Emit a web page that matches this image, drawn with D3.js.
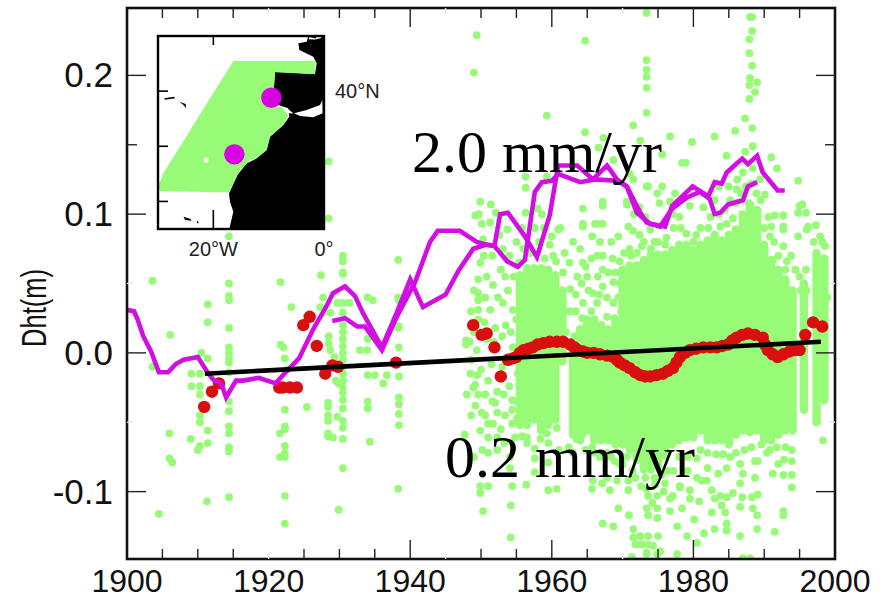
<!DOCTYPE html>
<html>
<head>
<meta charset="utf-8">
<script src="https://cdn.jsdelivr.net/npm/d3@7"></script>
<style>
	html,body{margin:0;padding:0;background:#fff;}
	svg{display:block;}
</style>
</head>
<body>
<div id="chart"></div>
<script>
'use strict';

// green dots as [year, Dht]
const greenEarly = [
	[1903.6,.052],[1906.1,.013],[1903.6,-.010],[1911.4,.035],[1911.4,.022],[1910.5,0],[1911.4,-.004],
	[1909.1,-.015],[1910.3,-.015],[1909.1,-.024],[1910.3,-.024],[1910.3,-.03],
	[1914.4,.084],[1914.4,.05],[1914.4,.041],[1914.4,.038],[1914.4,.018],[1914.4,.004],[1914.4,0],
	[1914.4,-.004],[1914.4,-.007],[1914.4,-.014],
	[1906,-.058],[1909,-.062],[1910.3,-.05],[1910.3,-.045],[1911.4,-.056],[1911.4,-.065],[1910.3,-.067],
	[1910,-.07],[1906,-.076],[1906.4,-.079],[1904.5,-.116],[1911.3,-.107],[1914.4,-.104],
	[1914.4,-.035],[1914.4,-.042],[1914.4,-.053],[1914.4,-.058],[1914.4,-.068],[1914.4,-.071],
	[1922.3,-.041],[1922.3,-.053],[1922.3,-.055],[1922.3,-.067],[1922.3,-.072],[1922.3,-.075],
	[1922.3,-.103],[1922.3,-.123],[1921.6,-.058],[1921.6,-.075],[1925.4,-.039],
	[1928.4,-.036],[1928.4,-.039],[1928.4,-.045],[1928.4,-.049],[1928.4,-.058],[1928.4,-.06],
	[1929.7,-.046],[1929.1,-.061],[1930.5,-.029],[1930.5,-.034],[1930.5,-.04],[1930.5,-.049],
	[1930.5,-.054],[1930.5,-.062],[1930.5,-.083],[1929.9,-.113],
	[1934,-.035],[1934,-.04],[1934.3,-.064],
	[1938.4,-.032],[1938.4,-.037],[1938.4,-.044],[1938.4,-.052],[1938.3,-.098],
	[1921.7,.051],[1923.2,.033],[1921.7,.006],[1922.1,.004],[1922.3,-.004],[1922.6,-.012],
	[1927.4,.056],[1930.5,.057],[1927.7,.04],[1927.3,.033],[1928.7,.029],[1929.7,.036],[1930.5,.036],
	[1931.4,.036],[1930.5,.029],[1930.5,.02],[1930.5,.015],[1930.5,.01],[1930.5,.005],[1930.5,0],
	[1930.5,-.005],[1930.5,-.01],[1930.5,-.015],[1930.5,-.02],[1930.5,-.025],
	[1928.5,.012],[1928.5,.007],[1928.7,.002],[1929.3,-.003],[1929.5,-.02],[1929.9,-.022],
	[1934,.04],[1934.7,.038],[1934,.01],[1932.9,.002],[1933.9,.002],[1934,-.016],[1935,-.016],
	[1936.7,-.016],[1936.2,-.022],[1938.4,.038],[1938.4,.019],[1938.4,.004],[1938.4,-.017],
	[1930.5,.07],[1930.5,.066],[1930.5,.058],[1938.3,.067],[1938.3,.04],[1938.3,.018],[1928.5,.138],[1928.5,.097]
];

const greenUpper = [
	[1949.4,.229],[1949,.202],[1964.7,.225],[1973.4,.245],[1973.4,.211],[1973.4,.204],[1973.4,.199],
	[1973.4,.191],[1973.4,.173],[1959.3,.171],[1971.5,.164],[1964.7,.159],[1967.3,.155],[1966.6,.148],
	[1968.7,.139],[1972.5,.153],[1956.3,.127],[1959.3,.127],[1956.3,.119],[1949.9,.109],[1951.4,.107],
	[1949.7,.1],[1952.1,.101],[1950.1,.093],[1956.3,.101],[1958,.104],[1958.6,.1],[1964.4,.104],
	[1967.2,.109],[1967.2,.106],[1970.6,.109],[1971,.129],[1973.4,.12],[1964.4,.093],[1966.1,.093],
	[1967.2,.093],[1970.8,.091],[1961.2,.09],
	[1988,.242],[1988.3,.242],[1988.3,.232],[1987.9,.226],[1987.9,.216],[1988.3,.207],[1988,.198],
	[1987.9,.193],[1989,.195],[1988.7,.188],[1987.9,.183],[1987.3,.169],[1988.3,.162],[1985.9,.16],
	[1983,.156],[1976.7,.156],[1979.8,.152],[1988.4,.149],[1975.6,.143],[1984.7,.142],[1987.3,.145],
	[1991,.141],[1991.8,.133],[1978.4,.137],[1978.9,.137],[1988.4,.133],[1994.8,.124],[1973.6,.12],
	[1975.6,.12],[1974.9,.115],[1977.4,.115],[1986.1,.118],[1990.1,.114],[1995.4,.107],[1994.8,.101],
	[1995.9,.101],[1991.5,.099],[1992.7,.099],[1996.2,.091],[1992.7,.091],
	[1949.2,.099],[1951.3,.094],[1953.7,.089],[1950.3,.082],[1953.1,.075],[1949.9,.065],
	[1949.6,.053],[1949.6,.043],[1949.6,.038],[1949.6,.031],[1949.6,.024],[1951.7,.049],[1951.3,.031],
	[1953.1,.036],[1954.5,.031],[1955.4,.031],[1960.9,.089],[1960,.084],[1964.4,.091],[1966.4,.093],
	[1965.7,.084],[1969.4,.084],[1971.5,.088],[1972.7,.077],[1973.9,.089],[1964,.075],[1959.7,.078],
	[1960.2,.07],[1964.4,.065],[1966.4,.07],[1967.2,.07],[1965,.055],[1967.2,.048],[1968.7,.051],
	[1963.6,.055],[1961.6,.058],[1965.8,.043],[1967.2,.06],[1964.4,.036],[1962.6,.046],[1962.6,.03],
	[1966.4,.036],[1968.7,.036],[1967.8,.026],[1966.5,.055],[1969.4,.04],[1963.4,.03],[1964.2,.05],
	[1971.5,.125],[1970.6,.107],[1976.7,.109],[1979.5,.106],[1984.7,.093],[1983.8,.091],[1991,.091],
	[1992.7,.099],[1995,.106],[1996,.089],[1994.8,.084],[1997.9,.084],[1998.6,.077],[1992.7,.077],
	[1992.7,.089],[1990.8,.084],[1989.8,.075],[1991.2,.067],[1993,.06],[1995,.055],[1995.9,.06],
	[1972.4,.085],[1974.5,.08],[1976.2,.083],[1978.2,.09],[1980.4,.085],[1982.1,.09],[1985.6,.097],
	[1986.9,.1],[1988.9,.115],[1989.5,.11],[1987.8,.108],[1971,.075],[1969.6,.066],[1968.6,.068]
];

const greenLower = [
	[1949,.015],[1950.5,.022],[1952,.018],[1953.5,.02],[1955,.024],[1948.6,-.005],[1950,-.012],
	[1951.5,-.008],[1953,-.01],[1954.5,.004],[1955.2,-.015],[1949.5,-.016],[1951,-.02],[1952.5,-.018],
	[1954,-.024],[1948.4,.008],[1948.9,-.025],[1947.9,.009],[1947.9,.006],[1949.4,.002],
	[1948,-.03],[1949.2,-.023],[1949.6,-.03],[1949.2,-.038],[1950.1,-.043],[1951,-.051],[1949.9,-.056],
	[1951,-.061],[1947.7,-.059],[1952.3,-.028],[1952,-.036],[1952.3,-.043],[1951.7,-.051],[1954.4,-.034],
	[1954.4,-.041],[1955.1,-.047],[1954.4,-.051],[1954.8,-.061],[1952.3,-.061],[1952.3,-.07],[1951,-.072],
	[1954.1,-.075],[1954.1,-.083],[1949.9,-.096],[1949.9,-.101],[1951,-.096],[1954.4,-.096],[1956.4,-.095],
	[1959.5,-.099],[1960.7,-.098],[1950.3,-.114],[1954.2,-.11],[1954.2,-.133],[1959.3,-.058],[1960.7,-.054],
	[1959.5,-.065],[1956.5,-.061],[1956.5,-.065],[1957.6,-.076],[1957.6,-.069],[1957.6,-.086],[1959.5,-.079],
	[1963.5,-.062],[1964.3,-.059],[1965.7,-.068],[1967.2,-.062],[1965.8,-.092],[1965.7,-.098],[1967.1,-.094],
	[1968.2,-.099],[1969.4,-.112],[1970.9,-.117],[1967.2,-.123],[1968.7,-.125],[1971.5,-.127],[1971.5,-.133],
	[1972.5,-.132],[1972.7,-.138],[1971.8,-.138],[1971.3,-.147],[1973.4,-.144],[1970.8,-.099],[1969.2,-.092],
	[1967.8,-.09],[1970.8,-.092],[1969.6,-.08],[1971.4,-.085],[1968.4,-.075],[1966.8,-.075],
	[1973.6,-.103],[1974.9,-.103],[1974.2,-.108],[1973.4,-.112],[1974.9,-.112],[1973.6,-.117],[1974.9,-.119],
	[1976.7,-.105],[1976.7,-.114],[1978.4,-.112],[1977.7,-.125],[1978.1,-.096],[1979.5,-.099],[1979.5,-.105],
	[1980.8,-.107],[1980.1,-.12],[1979.1,-.132],[1981.5,-.13],[1980.5,-.137],[1977.7,-.145],
	[1972.5,-.132],[1973.6,-.132],[1975,-.132],[1972.5,-.138],[1973.6,-.138],[1974.3,-.139],[1975.3,-.143],
	[1973.4,-.145],[1974.9,-.145],[1982.6,-.115],[1984,-.11],[1984.5,-.115],[1986.6,-.111],[1983,-.127],
	[1984.7,-.123],[1984.7,-.128],[1986.6,-.132],[1989,-.127],[1991.5,-.129],[1988.4,-.112],[1989,-.117],
	[1992.7,-.114],[1992.7,-.117],[1987,-.148],[1988,-.148],[1998.3,-.063],
	[1980.5,-.076],[1981.9,-.092],[1982.6,-.099],[1983,-.105],[1983.8,-.103],[1984.7,-.104],[1985.6,-.101],
	[1986.9,-.104],[1988.3,-.104],[1989.1,-.102],[1986.6,-.094],[1987,-.087],[1988.7,-.09],[1989.1,-.078],
	[1990.4,-.072],[1991.2,-.087],[1992.7,-.088],[1993.9,-.088],[1993.9,-.097],[1984.7,-.083],[1983.5,-.087],
	[1982,-.083],[1985.2,-.075],[1986.6,-.08],[1988.7,-.078],[1992,-.08],[1977.1,-.103],[1978.1,-.097],
	[1976,-.094],[1979.2,-.085],[1980.5,-.09],[1981.2,-.092],[1976.4,-.085],[1974.6,-.095],[1973.2,-.09]
];

// dots along the edges of the dense cloud
const greenEdgeTop = [
	[1948.6,.03],[1949,.045],[1950.4,.07],[1950.8,.055],[1951.6,.07],[1952.6,.085],[1952.8,.06],[1953.4,.055],
	[1954,.07],[1954.6,.055],[1955,.08],[1955.4,.065],[1950.6,.04],[1952.4,.04],[1953.8,.045],[1950.8,.01],
	[1951.8,.008],[1953,.012],[1954.2,.015],
	[1956,.075],[1957,.072],[1958.2,.08],[1959,.068],[1957.6,.09],[1955.8,.09],[1958.9,.09],[1960.6,.066],
	[1961.8,.072],[1962.5,.065],[1963,.08],[1965.6,.068],[1966.8,.08],[1968.4,.08],[1968,.058],[1969,.058],
	[1965.2,.045],[1964.3,.025],[1963.2,.012],[1965.6,.03],[1967.8,.04],[1969.6,.05],[1969.8,.03],[1968.8,.025],
	[1966.7,.042],[1962,.015],[1961.8,.03],[1963.4,.042],[1964.8,.062],[1970.2,.072],[1971.2,.07],[1972,.072],
	[1973,.08],[1974,.075],[1975,.08],[1976,.078],[1977.2,.09],[1978,.098],[1979,.086],[1980,.08],[1981,.09],
	[1982.4,.098],[1983.6,.1],[1984.4,.103],[1985.2,.11],[1986,.108],[1986.8,.115],[1987.4,.12],[1988.2,.122],
	[1989.4,.125],[1990,.09],[1990.6,.098],[1991.4,.08],[1992,.07],[1993.2,.066],[1993.8,.07],[1994.4,.06],
	[1996,.045],[1997,.08],[1998.2,.08],[1997.3,.092],[1998.9,.04],[1995.2,.045],[1971.6,.1],[1972.4,.105],
	[1973.2,.098],[1975.2,.108],[1977,.1],[1981.4,.105],[1983,.11],[1985,.12],[1986.2,.125],[1987,.13],[1983.6,.12]
];
const greenEdgeBottom = [
	[1948.5,-.015],[1950.6,-.03],[1951.6,-.035],[1953.2,-.03],[1953.4,-.045],[1950.6,-.045],[1948.6,-.045],
	[1952.8,-.055],[1950.2,-.07],[1949,-.075],[1953.3,-.065],[1955,-.035],
	[1955.8,-.06],[1958.4,-.062],[1961,-.07],[1962.4,-.068],[1963,-.072],[1964.8,-.07],[1966,-.072],[1967.8,-.072],
	[1968.9,-.078],[1970,-.08],[1970.6,-.075],[1971.8,-.09],[1972.6,-.096],[1973.4,-.098],[1974.5,-.09],
	[1975.5,-.088],[1975.8,-.1],[1977.2,-.085],[1978,-.075],[1979.2,-.075],[1981,-.07],[1982,-.072],[1983.2,-.073],
	[1984.2,-.073],[1986,-.072],[1987.2,-.07],[1988.2,-.068],[1989.6,-.066],[1990.8,-.07],[1991.8,-.068],[1993,-.068],
	[1993.9,-.07],[1993.9,-.078],[1992.8,-.077]
];

// where the dots merge into a solid mass: top and bottom per year
const bandYears = [1955.5,1956.5,1957.5,1958.5,1959.5,1960.5,1961.5,1963,1964,1965,1966,1967,1968,1969,1970,1971,1972,1973,1974,1975,1976,1977,1978,1979,1980,1981,1982,1983,1984,1985,1986,1987,1988,1989,1990,1991,1992,1993,1994,1995.6,1997.4,1998.5];
const bandHigh = [.056,.061,.061,.061,.06,.056,.045,.006,.017,.024,.024,.02,.017,.024,.06,.063,.063,.067,.071,.071,.071,.074,.078,.078,.074,.078,.081,.085,.081,.085,.089,.096,.107,.103,.078,.067,.06,.053,.045,.05,.072,.068];
const bandLow = [-.052,-.052,-.048,-.056,-.052,-.048,-.006,-.059,-.063,-.056,-.063,-.063,-.063,-.066,-.066,-.07,-.077,-.084,-.084,-.081,-.074,-.066,-.063,-.061,-.061,-.056,-.063,-.063,-.063,-.066,-.059,-.056,-.057,-.056,-.063,-.063,-.059,-.056,-.056,-.041,-.05,-.034];

// red points
const redYears = [1910.9,1912,1913,1921.5,1922,1923,1924,1924.9,1925.8,1926.8,1928,1929,1929.8,1938,1948.9,1950.1,1950.8,1951.9,1952.8,1953.8,1954.5,1955,1955.5,1956,1956.7,1957.3,1958,1958.8,1959.7,1960.7,1961.6,1962.6,1963.2,1963.7,1964.4,1965,1965.9,1966.8,1967.8,1968.7,1969.2,1969.6,1970.3,1971,1971.8,1972.5,1973.2,1973.9,1974.8,1975.7,1976.4,1977.1,1977.6,1978.1,1978.8,1979.5,1980.4,1981.4,1982.4,1983.3,1984.1,1984.9,1985.5,1986.1,1986.9,1987.7,1988.7,1989.8,1990.1,1990.5,1991.2,1991.9,1992.7,1993.6,1994.3,1995,1995.8,1996.9,1998.2];
const redValues = [-.039,-.028,-.022,-.025,-.025,-.025,-.025,.02,.026,.005,-.015,-.009,-.01,-.007,.02,.013,.014,.004,-.017,-.005,-.004,-.003,0,.002,.003,.004,.006,.007,.008,.008,.008,.006,.004,.002,.001,0,0,-.001,-.002,-.003,-.005,-.007,-.009,-.011,-.014,-.016,-.017,-.017,-.016,-.015,-.013,-.011,-.007,-.003,0,.002,.003,.004,.004,.004,.005,.006,.009,.011,.013,.014,.013,.011,.006,.002,-.001,-.003,-.001,.001,.002,.002,.013,.022,.019];

// the two magenta curves
const lineAYears = [1900,1901,1901.5,1902.3,1903.4,1904.5,1905.8,1906.9,1908,1910,1911.5,1912.3,1913.3,1914,1915.4,1916.4,1918.6,1921,1922.4,1924.3,1926.3,1928.1,1929.1,1930.8,1932.2,1933.3,1936,1938.1,1940,1941.8,1945,1946.8,1948.9,1950.8,1951.9,1952.7,1953.8,1956.2,1957.9,1959.7,1960.9,1963.6,1965.8,1967.8,1969.2,1970.6,1972,1973.9,1976,1977,1979.9,1982.1,1983,1984,1984.7,1986.9,1987.7,1989,1989.8,1991.9,1992.9];
const lineAValues = [.031,.03,.024,.012,.001,-.014,-.014,-.008,-.005,-.003,-.015,-.02,-.022,-.032,-.02,-.02,-.018,-.022,-.014,-.004,.017,.033,.043,.048,.041,.029,.004,.029,.053,.033,.042,.059,.075,.078,.077,.1,.101,.084,.069,.099,.135,.135,.125,.135,.125,.12,.101,.093,.091,.106,.12,.113,.123,.122,.13,.14,.136,.142,.13,.117,.117];
const lineBYears = [1929,1930.8,1932.5,1933.6,1936,1938.1,1940.7,1942.8,1943.9,1947,1949.4,1950.8,1951.9,1953.7,1955.2,1956.2,1957.6,1958.6,1960,1960.9,1964,1966.1,1969.2,1970.6,1972.5,1973.4,1975.3,1977,1979.1,1980.9,1982.3,1983,1983.8,1984.9,1987,1987.7,1989];
const lineBValues = [.023,.025,.019,.019,.002,.026,.051,.08,.088,.088,.08,.078,.077,.066,.062,.067,.116,.123,.124,.129,.123,.125,.124,.12,.101,.094,.091,.104,.112,.116,.111,.1,.101,.107,.11,.12,.123];

// black trend
const trendYears = [1911,1998];
const trendValues = [-.015,.008];

// axis ticks
const xLabelYears = [1900,1920,1940,1960,1980,2000];
const xMajorYears = [1940,1960,1980];
const xMinorYears = [1905,1910,1915,1925,1930,1935,1950,1955,1965,1975,1985,1990,1995];
const xFaintYears = [1920,1945,1970];
const yLabelValues = [-.1,0,.1,.2];
const yMinorValues = [.15];
const yFaintValues = [-.05,.05];

// inset map, [lon, lat]
const landOutline = [[-2.83,50],[-3.13,48.97],[-4.64,48.67],[-4.46,47.46],[-1.93,46.25],[-1.33,45.04],[-1.63,43.11],[-8.86,43.53],[-9.04,40.81],[-8.25,37.48],[-6.45,36.88],[-6.27,35.37],[-7.35,33.86],[-9.76,31.74],[-10.36,29.32],[-12.17,27.81],[-13.98,26.9],[-15.66,24.79],[-17.17,21.46],[-16.99,19.95],[-16.39,18.14],[-17.11,15],[0,15],[0,50]];
const seaPatch = [[-5.42,35.97],[-3.13,36.58],[-.72,37.48],[-.3,38.39],[-.24,35.97],[-1.93,35.25],[-4.34,35.49]];
const straitPatch = [[-7.65,37.06],[-6.27,36.58],[-5.5,35.95],[-6.27,35.97]];
const speckPatch = [[-2.6,49.8],[-1.5,49.55],[-1.3,49.9],[-.5,49.9],[-.5,49.65],[-1.6,49.35],[-2.8,49.4]];
const swathOutline = [[-16.39,45.47],[-1.51,45.47],[-1.63,43.05],[-8.86,43.41],[-9.04,40.81],[-9.64,37.18],[-7.65,37.06],[-6.45,35.67],[-7.35,33.86],[-9.76,31.74],[-10.36,29.32],[-12.17,27.81],[-13.37,27.5],[-15.18,25.7],[-17.17,21.64],[-29.64,21.89],[-30,22.67],[-29.04,25.09]];
const swathHole = [[-21.7,27.9],[-20.9,28],[-20.9,27.1],[-21.6,27]];
const islandA = [[-28.9,38.7],[-27.1,39],[-26.9,38.7],[-28.7,38.45]];
const islandB = [[-26.14,38.09],[-25,37.67],[-24.94,36.88],[-25.4,37.48]];
const islandC = [[-25.4,17.23],[-24.2,16.87],[-23.9,16.5],[-25.1,16.63]];
const islandD = [[-23,16.6],[-22.6,16.14],[-22.9,16]];
const siteLons = [-9.52,-16.2];
const siteLats = [38.81,28.54];
const insetLonTicks = [-20];
const insetLatTicks = [20,30,40];

const GREEN = '#98fb78', MAGENTA = '#d20fe2', RED = '#d90f0f', INK = '#111';

var svg = d3.select('#chart').append('svg')
	.attr('width',884)
	.attr('height',599);

var x = d3.scaleLinear().domain([1900,2000]).range([127,835]);
var y = d3.scaleLinear().domain([-.15,.25]).range([561,6]);

svg.append('clipPath').attr('id','plotclip').append('rect')
	.attr('x',127).attr('y',8).attr('width',708).attr('height',551);

var plot = svg.append('g').attr('clip-path','url(#plotclip)');

// solid part of the cloud
plot.append('g').selectAll('line')
	.data(bandYears)
	.enter().append('line')
		.attr('x1',function(d){ return x(d); })
		.attr('x2',function(d){ return x(d); })
		.attr('y1',function(d,i){ return y(bandHigh[i]); })
		.attr('y2',function(d,i){ return y(bandLow[i]); })
		.attr('stroke',GREEN)
		.attr('stroke-width',8.4)
		.attr('stroke-linecap','round');

// single dots
plot.append('g').selectAll('circle')
	.data(greenEarly.concat(greenUpper,greenLower,greenEdgeTop,greenEdgeBottom))
	.enter().append('circle')
		.attr('cx',function(d){ return x(d[0]); })
		.attr('cy',function(d){ return y(d[1]); })
		.attr('r',3.9)
		.attr('fill',GREEN);

// red
plot.append('g').selectAll('circle')
	.data(redYears)
	.enter().append('circle')
		.attr('cx',function(d){ return x(d); })
		.attr('cy',function(d,i){ return y(redValues[i]); })
		.attr('r',6.2)
		.attr('fill',RED);

// curves
function drawCurve(years,values,color,width){
	var line = d3.line()
		.x(function(d){ return x(d); })
		.y(function(d,i){ return y(values[i]); });
	plot.append('path')
		.attr('d',line(years))
		.attr('fill','none')
		.attr('stroke',color)
		.attr('stroke-width',width)
		.attr('stroke-linejoin','miter');
}
drawCurve(lineBYears,lineBValues,MAGENTA,4.6);
drawCurve(lineAYears,lineAValues,MAGENTA,4.6);
drawCurve(trendYears,trendValues,'#000',4.6);

// inset map
var lon = d3.scaleLinear().domain([-30,0]).range([158,324]);
var lat = d3.scaleLinear().domain([15,50]).range([229,36]);
var outline = d3.line()
	.x(function(d){ return lon(d[0]); })
	.y(function(d){ return lat(d[1]); })
	.curve(d3.curveLinearClosed);

var inset = svg.append('g');
inset.append('rect')
	.attr('x',lon(-30)).attr('y',lat(50))
	.attr('width',lon(0)-lon(-30)).attr('height',lat(15)-lat(50))
	.attr('fill','#fff');

function drawShape(points,color){
	inset.append('path').attr('d',outline(points)).attr('fill',color);
}
drawShape(landOutline,'#000');
drawShape(seaPatch,'#fff');
drawShape(straitPatch,'#fff');
drawShape(speckPatch,'#fff');
drawShape(swathOutline,GREEN);
drawShape(swathHole,'#fff');
drawShape(islandA,'#000');
drawShape(islandB,'#000');
drawShape(islandC,'#000');
drawShape(islandD,'#000');

inset.selectAll('.site')
	.data(siteLons)
	.enter().append('circle')
		.attr('class','site')
		.attr('cx',function(d){ return lon(d); })
		.attr('cy',function(d,i){ return lat(siteLats[i]); })
		.attr('r',10.2)
		.attr('fill','#d800e0');

inset.append('rect')
	.attr('x',lon(-30)).attr('y',lat(50))
	.attr('width',lon(0)-lon(-30)).attr('height',lat(15)-lat(50))
	.attr('fill','none')
	.attr('stroke','#000')
	.attr('stroke-width',2.4);

inset.selectAll('.lontop')
	.data(insetLonTicks)
	.enter().append('line')
		.attr('class','lontop')
		.attr('x1',function(d){ return lon(d); })
		.attr('x2',function(d){ return lon(d); })
		.attr('y1',lat(50)).attr('y2',lat(50)+9)
		.attr('stroke','#000').attr('stroke-width',1.6);
inset.selectAll('.lonbot')
	.data(insetLonTicks)
	.enter().append('line')
		.attr('class','lonbot')
		.attr('x1',function(d){ return lon(d); })
		.attr('x2',function(d){ return lon(d); })
		.attr('y1',lat(15)).attr('y2',lat(15)-19)
		.attr('stroke','#000').attr('stroke-width',1.6);
inset.selectAll('.lattick')
	.data(insetLatTicks)
	.enter().append('line')
		.attr('class','lattick')
		.attr('x1',lon(-30)).attr('x2',lon(-30)+10)
		.attr('y1',function(d){ return lat(d); })
		.attr('y2',function(d){ return lat(d); })
		.attr('stroke','#000').attr('stroke-width',1.6);

function insetLabel(px,py,txt,anchor){
	inset.append('text')
		.attr('x',px).attr('y',py)
		.attr('text-anchor',anchor)
		.attr('font-family','"Liberation Sans",Arial,sans-serif')
		.attr('font-size',20)
		.attr('fill','#222')
		.text(txt);
}
insetLabel(lon(-20),256,'20\u00b0W','middle');
insetLabel(lon(0),256,'0\u00b0','middle');
insetLabel(335,98,'40\u00b0N','start');

// frame and ticks
svg.append('rect')
	.attr('x',127).attr('y',8).attr('width',708).attr('height',551)
	.attr('fill','none').attr('stroke','#111').attr('stroke-width',2.6);

function xTicks(values,len,color){
	[[559,-1],[8,1]].forEach(function(edge){
		svg.append('g').selectAll('line')
			.data(values)
			.enter().append('line')
				.attr('x1',function(d){ return x(d); })
				.attr('x2',function(d){ return x(d); })
				.attr('y1',edge[0])
				.attr('y2',edge[0]+edge[1]*len)
				.attr('stroke',color)
				.attr('stroke-width',1.4);
	});
}
function yTicks(values,len,color){
	[[127,1],[835,-1]].forEach(function(edge){
		svg.append('g').selectAll('line')
			.data(values)
			.enter().append('line')
				.attr('x1',edge[0])
				.attr('x2',edge[0]+edge[1]*len)
				.attr('y1',function(d){ return y(d); })
				.attr('y2',function(d){ return y(d); })
				.attr('stroke',color)
				.attr('stroke-width',1.4);
	});
}
xTicks(xMajorYears,19,'#222');
xTicks(xMinorYears,10,'#222');
xTicks(xFaintYears,6,'#e6e6e6');
yTicks(yLabelValues,19,'#222');
yTicks(yMinorValues,10,'#222');
yTicks(yFaintValues,6,'#e6e6e6');

// labels
svg.append('g').selectAll('text')
	.data(xLabelYears)
	.enter().append('text')
		.attr('x',function(d){ return x(d); })
		.attr('y',592)
		.attr('text-anchor','middle')
		.attr('font-family','"Liberation Sans",Arial,sans-serif')
		.attr('font-size',32)
		.attr('fill',INK)
		.text(function(d){ return d; });

svg.append('g').selectAll('text')
	.data(yLabelValues)
	.enter().append('text')
		.attr('x',113)
		.attr('y',function(d){ return y(d)+12; })
		.attr('text-anchor','end')
		.attr('font-family','"Liberation Sans",Arial,sans-serif')
		.attr('font-size',35)
		.attr('fill',INK)
		.text(function(d){ return d.toFixed(1); });

svg.append('text')
	.attr('transform','translate(46,308) rotate(-90)')
	.attr('text-anchor','middle')
	.attr('font-family','"Liberation Sans",Arial,sans-serif')
	.attr('font-size',35)
	.attr('textLength',78)
	.attr('lengthAdjust','spacingAndGlyphs')
	.attr('fill',INK)
	.text('Dht(m)');

function rateLabel(px,py,txt){
	svg.append('text')
		.attr('x',px).attr('y',py)
		.attr('font-family','"Liberation Serif","Times New Roman",serif')
		.attr('font-size',60)
		.attr('fill','#000')
		.text(txt);
}
rateLabel(412,172,'2.0 mm/yr');
rateLabel(445,477,'0.2 mm/yr');
</script>
</body>
</html>
